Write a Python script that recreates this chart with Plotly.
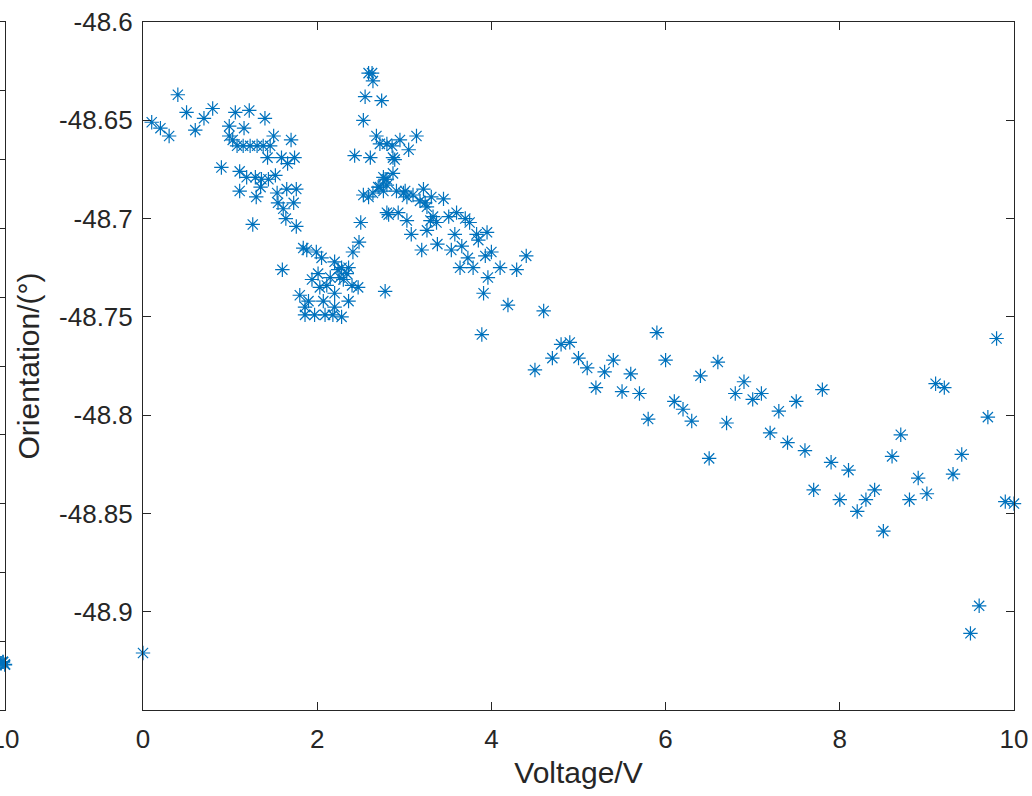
import plotly.graph_objects as go

# ---- data ----
voltage = [
    0.00, 0.10, 0.20, 0.30, 0.40, 0.50, 0.60, 0.70, 0.80, 0.90,
    1.06, 1.22, 1.40, 0.99, 1.16, 0.99, 1.03, 1.08, 1.15, 1.23, 1.31, 1.38, 1.46, 1.50, 1.70,
    1.43, 1.59, 1.66, 1.74, 1.11, 1.19, 1.29, 1.44, 1.52, 1.11, 1.30, 1.35, 1.54, 1.65, 1.76,
    1.55, 1.61, 1.73, 1.64, 1.76, 1.26, 1.36,
    2.63, 2.64, 2.74, 2.55, 2.53, 2.43, 2.61, 2.68, 2.80, 2.87, 2.78, 2.87, 2.70, 2.53, 2.59,
    2.82, 2.50, 2.48, 2.78, 1.60, 2.59,
    1.84, 1.88, 1.99, 2.05, 2.20, 2.28, 2.36, 2.41, 2.15, 2.26, 2.34, 1.94, 2.11, 2.30, 2.40,
    2.47, 1.80, 2.03, 2.20, 2.36, 1.90, 1.86, 2.07, 2.20, 1.86, 1.97, 2.09, 2.18, 2.28, 2.01, 2.24,
    2.80, 2.93, 3.03, 3.08, 3.20, 3.38, 3.26, 3.37, 2.72, 2.80, 2.64, 2.76, 2.99, 3.10, 3.22,
    3.18, 3.31, 3.26, 3.33, 2.91, 3.03,
    2.86, 2.95, 3.14, 3.05, 2.89, 2.76, 2.80, 3.01, 2.72,
    3.45, 3.24, 3.30, 3.51, 3.60, 3.70, 3.75, 3.58, 3.66, 3.54, 3.83, 3.95, 3.85, 4.00, 3.93,
    3.73, 3.64, 3.79, 4.10, 4.29, 3.96, 3.91, 4.19, 3.89,
    4.4, 4.5, 4.6, 4.7, 4.8, 4.9, 5.0, 5.1, 5.2, 5.3, 5.4, 5.5, 5.6, 5.7, 5.8, 5.9,
    6.0, 6.1, 6.2, 6.3, 6.4, 6.5, 6.6, 6.7, 6.8, 6.9, 7.0, 7.1, 7.2, 7.3, 7.4, 7.5,
    7.6, 7.7, 7.8, 7.9, 8.0, 8.1, 8.2, 8.3, 8.4, 8.5, 8.6, 8.7, 8.8, 8.9, 9.0, 9.1,
    9.2, 9.3, 9.4, 9.5, 9.6, 9.7, 9.8, 9.9, 10.0,
]
orientation = [
    -48.921, -48.651, -48.654, -48.658, -48.637, -48.646, -48.655, -48.649, -48.644, -48.674,
    -48.646, -48.645, -48.649, -48.653, -48.654, -48.658, -48.660, -48.663, -48.663, -48.663,
    -48.663, -48.663, -48.663, -48.658, -48.660,
    -48.669, -48.669, -48.672, -48.669, -48.676, -48.679, -48.679, -48.680, -48.678, -48.686,
    -48.689, -48.684, -48.687, -48.685, -48.685,
    -48.692, -48.695, -48.692, -48.700, -48.704, -48.703, -48.680,
    -48.626, -48.630, -48.640, -48.638, -48.650, -48.668, -48.669, -48.658, -48.662, -48.669,
    -48.680, -48.677, -48.684, -48.688, -48.689,
    -48.698, -48.702, -48.712, -48.737, -48.726, -48.626,
    -48.715, -48.716, -48.717, -48.720, -48.722, -48.725, -48.725, -48.717, -48.730, -48.730,
    -48.728, -48.731, -48.734, -48.731, -48.734,
    -48.735, -48.739, -48.735, -48.738, -48.742, -48.742, -48.745, -48.742, -48.745, -48.749,
    -48.749, -48.749, -48.749, -48.750, -48.728, -48.726,
    -48.697, -48.697, -48.701, -48.708, -48.716, -48.713, -48.706, -48.702, -48.684, -48.680,
    -48.687, -48.686, -48.687, -48.688, -48.685,
    -48.691, -48.689, -48.694, -48.699, -48.686, -48.689,
    -48.663, -48.660, -48.658, -48.665, -48.670, -48.679, -48.683, -48.686, -48.662,
    -48.690, -48.692, -48.701, -48.699, -48.697, -48.700, -48.702, -48.708, -48.714, -48.716,
    -48.708, -48.707, -48.711, -48.717, -48.719,
    -48.720, -48.725, -48.725, -48.725, -48.726, -48.730, -48.738, -48.744, -48.759,
    -48.719, -48.777, -48.747, -48.771, -48.764, -48.763, -48.771, -48.776, -48.786, -48.778,
    -48.772, -48.788, -48.779, -48.789, -48.802, -48.758,
    -48.772, -48.793, -48.797, -48.803, -48.780, -48.822, -48.773, -48.804, -48.789, -48.783,
    -48.792, -48.789, -48.809, -48.798, -48.814, -48.793,
    -48.818, -48.838, -48.787, -48.824, -48.843, -48.828, -48.849, -48.843, -48.838, -48.859,
    -48.821, -48.810, -48.843, -48.832, -48.840, -48.784,
    -48.786, -48.830, -48.820, -48.911, -48.897, -48.801, -48.761, -48.844, -48.845,
]

# cut-off neighbouring panel on the left edge
left_voltage = [9.6, 9.8, 10.0]
left_value = [0.68, 0.70, 0.66]

x_ticks = [0, 2, 4, 6, 8, 10]
y_ticks = [-48.9, -48.85, -48.8, -48.75, -48.7, -48.65, -48.6]
y_ticktext = ["-48.9", "-48.85", "-48.8", "-48.75", "-48.7", "-48.65", "-48.6"]

BLUE = "#0072BD"
AX = "#262626"
FONT = "Liberation Sans, Arial, sans-serif"

fig = go.Figure()
fig.add_trace(go.Scatter(
    x=voltage, y=orientation, mode="markers", cliponaxis=False,
    marker=dict(symbol="asterisk-open", size=12, color=BLUE,
                line=dict(color=BLUE, width=1.2)),
    xaxis="x", yaxis="y", showlegend=False, hoverinfo="skip"))
fig.add_trace(go.Scatter(
    x=left_voltage, y=left_value, mode="markers", cliponaxis=False,
    marker=dict(symbol="asterisk-open", size=12, color=BLUE,
                line=dict(color=BLUE, width=1.8)),
    xaxis="x2", yaxis="y2", showlegend=False, hoverinfo="skip"))

W, H = 1032, 796
ml, mr, mt, mb = 0, 18, 22, 86
pw = W - ml - mr

axis_common = dict(showline=True, linecolor=AX, linewidth=1, ticks="inside",
                   ticklen=8, tickcolor=AX, showgrid=False, zeroline=False,
                   automargin=False, ticklabeloverflow="allow",
                   tickfont=dict(family=FONT, size=26, color=AX))

fig.update_layout(
    width=W, height=H,
    margin=dict(l=ml, r=mr, t=mt, b=mb, autoexpand=False),
    paper_bgcolor="white", plot_bgcolor="white",
    xaxis=dict(domain=[143 / pw, 1], range=[0, 10], tickvals=x_ticks,
               mirror="ticks", anchor="y", ticklabelstandoff=6,
               title=dict(text="Voltage/V", standoff=8,
                          font=dict(family=FONT, size=30, color=AX)),
               **axis_common),
    yaxis=dict(domain=[0, 1], range=[-48.95, -48.6], tickvals=y_ticks,
               ticktext=y_ticktext, mirror="ticks", anchor="x",
               ticklabelstandoff=4,
               title=dict(text="Orientation/(°)", standoff=10,
                          font=dict(family=FONT, size=30, color=AX)),
               **axis_common),
    xaxis2=dict(domain=[0, 5 / pw], range=[9.5, 10], tickvals=[10],
                ticktext=["10"], mirror=True, anchor="y2", ticklabelstandoff=6,
                **axis_common),
    yaxis2=dict(domain=[0, 1], range=[0, 10], dtick=1, side="right",
                showticklabels=False, anchor="x2",
                **{**axis_common, "ticklen": 5}),
)

fig.write_html("out.html")
